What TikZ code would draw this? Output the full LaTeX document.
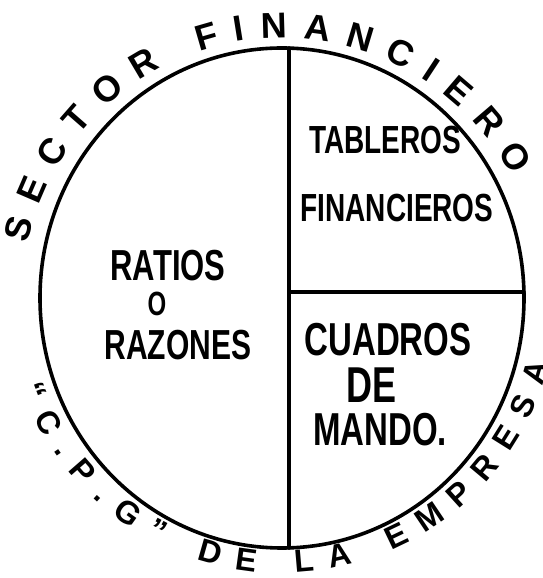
\documentclass[tikz,border=0pt]{standalone}
\usepackage{fontspec}
\setmainfont{Liberation Sans}
\usepackage{graphicx}
\usepackage{tikz}
\usetikzlibrary{decorations.text}

\newcommand{\handsize}[1]{\bfseries\fontsize{#1}{#1}\selectfont}
\newcommand{\tallword}[1]{\scalebox{1}[1.4]{#1}}

\begin{document}
\begin{tikzpicture}[x=1pt, y=1pt,
    marker/.style={line width=3.6pt, line cap=round},
    inner text/.style={font=\handsize{#1}, inner sep=0pt},
    inner text/.default=30,
    rim text/.style={decorate, decoration={text along path, text align=fit to path, text={#1}}}]

    \useasboundingbox (0,0) rectangle (542,578);

    % 1. THE CIRCLE (the whole company)
    \coordinate (centre) at (282,280);
    \draw[marker] (centre) ellipse [x radius=242, y radius=250];

    % 2. THE CUTS: one diameter, one radius to the right
    \coordinate (top) at (289,530);
    \coordinate (bottom) at (289,30);
    \coordinate (middle) at (289,286);
    \coordinate (rim right) at (524,286);
    \draw[marker] (top) -- (bottom);
    \draw[marker] (middle) -- (rim right);

    % 3. LEFT HALF
    \node[inner text=31] (ratios) at (168,312) {\tallword{RATIOS}};
    \node[inner text=24] (o) at (157,274) {\tallword{O}};
    \node[inner text=30] (razones) at (178,233) {\tallword{RAZONES}};

    % 4. UPPER RIGHT QUARTER
    \node[inner text=28] (tableros) at (385,438) {\tallword{TABLEROS}};
    \node[inner text=28] (financieros) at (397,370) {\tallword{FINANCIEROS}};

    % 5. LOWER RIGHT QUARTER
    \node[inner text=33] (cuadros) at (388,238) {\tallword{CUADROS}};
    \node[inner text=36] (de) at (372,193) {\tallword{DE}};
    \node[inner text=33] (mando) at (380,148) {\tallword{MANDO.}};

    % 6. WRITING ROUND THE RIM
    \path[rim text={|\handsize{36}|SECTOR FINANCIERO}]
        ([shift={(centre)}]168:260) arc[start angle=168, end angle=28, radius=260];
    \path[rim text={|\handsize{32}|“C.P.G” DE LA EMPRESA}]
        ([shift={(centre)}]199:275) arc[start angle=199, end angle=346, radius=275];

\end{tikzpicture}
\end{document}
